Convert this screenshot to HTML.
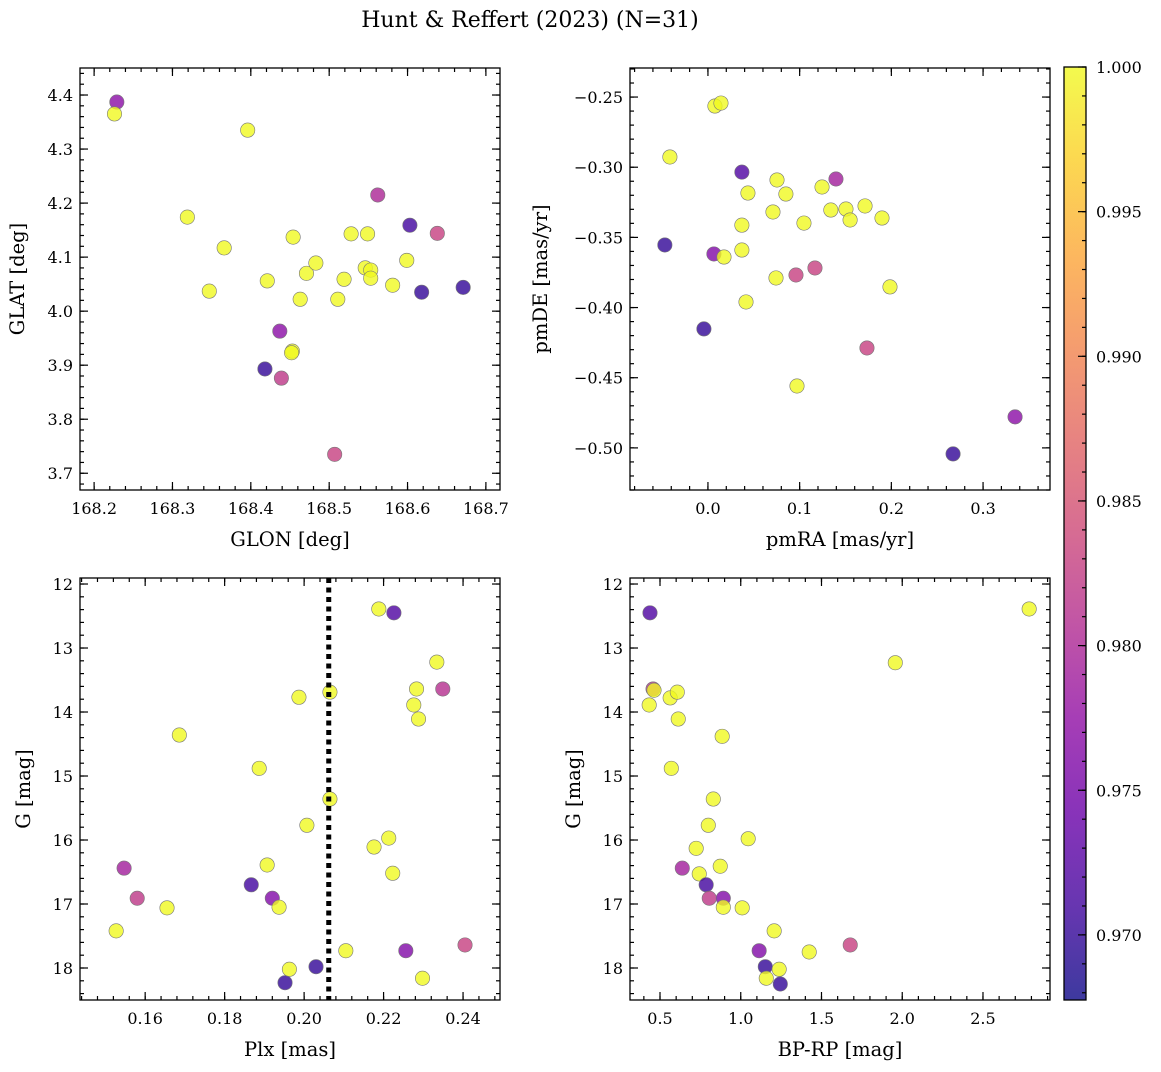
<!DOCTYPE html>
<html><head><meta charset="utf-8"><style>
html,body{margin:0;padding:0;background:#fff;}
svg text{font-family:"DejaVu Serif","Liberation Serif",serif;fill:#000;}
</style></head><body>
<svg id="fig" width="1161" height="1067" xmlns="http://www.w3.org/2000/svg">
<defs><linearGradient id="plasma" x1="0" y1="1" x2="0" y2="0">
<stop offset="0" stop-color="#0d0887"/><stop offset="0.1" stop-color="#41049d"/><stop offset="0.2" stop-color="#6a00a8"/><stop offset="0.3" stop-color="#8f0da4"/><stop offset="0.4" stop-color="#b12a90"/><stop offset="0.5" stop-color="#cc4778"/><stop offset="0.6" stop-color="#e16462"/><stop offset="0.7" stop-color="#f2844b"/><stop offset="0.8" stop-color="#fca636"/><stop offset="0.9" stop-color="#fcce25"/><stop offset="1" stop-color="#f0f921"/>
</linearGradient></defs>
<text x="530" y="27" font-size="22" text-anchor="middle">Hunt &amp; Reffert (2023) (N=31)</text>
</svg>
<script>
// Panel data
const tlX=[168.229,168.226,168.319,168.366,168.347,168.396,168.421,168.437,168.418,168.439,168.453,168.452,168.454,168.471,168.463,168.483,168.511,168.519,168.528,168.507,168.549,168.546,168.553,168.553,168.562,168.581,168.599,168.603,168.618,168.638,168.671];
const tlY=[4.387,4.365,4.174,4.117,4.037,4.335,4.056,3.963,3.893,3.876,3.926,3.923,4.137,4.070,4.022,4.089,4.022,4.059,4.143,3.735,4.143,4.080,4.076,4.061,4.215,4.048,4.094,4.159,4.035,4.144,4.044];
const tlP=[0.977,1,1,1,1,1,1,0.977,0.970,0.982,1,1,1,1,1,1,1,1,1,0.983,1,1,1,1,0.980,1,1,0.971,0.970,0.983,0.970];
const trX=[0.0076,0.0142,-0.0415,-0.047,-0.0044,0.0065,0.0175,0.037,0.0436,0.037,0.037,0.0415,0.0753,0.0709,0.0742,0.085,0.096,0.1047,0.0971,0.1167,0.1244,0.134,0.1396,0.1505,0.155,0.1713,0.1734,0.1898,0.1985,0.2673,0.3349];
const trY=[-0.2564,-0.2543,-0.2927,-0.3554,-0.4152,-0.3618,-0.364,-0.3035,-0.3184,-0.3413,-0.3590,-0.3960,-0.3091,-0.3319,-0.3789,-0.3191,-0.3768,-0.3398,-0.4559,-0.3718,-0.3141,-0.3305,-0.3084,-0.3298,-0.3376,-0.3276,-0.4288,-0.3362,-0.3853,-0.5043,-0.4779];
const trP=[1,1,1,0.970,0.970,0.976,1,0.972,1,1,1,1,1,1,1,1,0.983,1,1,0.983,1,1,0.979,1,1,1,0.983,1,1,0.970,0.977];
const blX=[0.1527,0.1547,0.1580,0.1655,0.1686,0.1867,0.1887,0.1907,0.1920,0.1937,0.1952,0.1963,0.1987,0.2007,0.2030,0.2065,0.2065,0.2105,0.2176,0.2188,0.2213,0.2223,0.2226,0.2256,0.2276,0.2283,0.2288,0.2298,0.2334,0.2349,0.2405];
const blY=[17.42,16.44,16.91,17.06,14.36,16.70,14.88,16.39,16.91,17.05,18.23,18.02,13.77,15.77,17.98,13.69,15.36,17.73,16.11,12.39,15.97,16.52,12.45,17.73,13.89,13.64,14.11,18.16,13.22,13.64,17.64];
const blP=[1,0.979,0.982,1,1,0.971,1,1,0.976,1,0.970,1,1,1,0.970,1,1,1,1,1,1,1,0.972,0.976,1,1,1,1,1,0.981,0.983];
const brX=[0.438,0.457,0.463,0.433,0.563,0.607,0.613,0.570,0.638,0.724,0.743,0.786,0.799,0.805,0.830,0.873,0.885,0.892,0.892,1.009,1.046,1.114,1.152,1.158,1.207,1.238,1.245,1.424,1.678,1.957,2.786];
const brY=[12.45,13.64,13.66,13.89,13.78,13.69,14.11,14.88,16.44,16.13,16.53,16.70,15.77,16.91,15.36,16.41,14.38,16.91,17.05,17.06,15.98,17.73,17.98,18.16,17.42,18.02,18.25,17.75,17.64,13.23,12.39];
const brP=[0.972,0.981,1,1,1,1,1,1,0.979,1,1,0.971,1,0.982,1,1,1,0.976,1,1,1,0.976,0.970,1,1,1,0.970,1,0.983,1,1];
const plxLine=[0.2062];
const cbTicks=[0.970,0.975,0.980,0.985,0.990,0.995,1.000];

const NS="http://www.w3.org/2000/svg";
const svg=document.getElementById('fig');
const PMIN=0.96775,PMAX=1.0;
const stops=[[13,8,135],[65,4,157],[106,0,168],[143,13,164],[177,42,144],[204,71,120],[225,100,98],[242,132,75],[252,166,54],[252,206,37],[240,249,33]];
function cmap(p){let t=(p-PMIN)/(PMAX-PMIN);t=Math.max(0,Math.min(1,t));const f=t*10,i=Math.min(9,Math.floor(f)),r=f-i;const a=stops[i],b=stops[i+1];return 'rgb('+a.map((v,k)=>Math.round(v+(b[k]-v)*r)).join(',')+')';}
function mk(tag,attrs,parent){const e=document.createElementNS(NS,tag);for(const k in attrs)e.setAttribute(k,attrs[k]);(parent||svg).appendChild(e);return e;}
function rng(a,b,s){const o=[];const lo=Math.min(a,b),hi=Math.max(a,b);for(let v=Math.ceil(lo/s-1e-6)*s;v<=hi+1e-9;v+=s)o.push(Math.round(v/s)*s);return o;}

function panel(o){
  const g=mk('g',{});
  
  
  const L=o.box[0],T=o.box[1],R=o.box[2],B=o.box[3];
  const sx=v=>L+(v-o.xd[0])/(o.xd[1]-o.xd[0])*(R-L);
  const sy=v=>B-(v-o.yd[0])/(o.yd[1]-o.yd[0])*(B-T);
  for(let i=0;i<o.x.length;i++){
    const c=mk('circle',{cx:sx(o.x[i]),cy:sy(o.y[i]),r:7.2,fill:cmap(o.p[i]),'fill-opacity':0.8,stroke:'#777','stroke-width':0.6},g);
    
    
  }
  if(o.vline){for(const v of o.vline){const l=mk('line',{x1:sx(v),x2:sx(v),y1:T,y2:B,stroke:'#000','stroke-width':5,'stroke-dasharray':'5,4.5'},g);
    
    }}
  const tk=(v,len,axis)=>{if(axis==='x'){const X=sx(v);mk('line',{x1:X,x2:X,y1:B,y2:B-len,stroke:'#000','stroke-width':1.2},g);mk('line',{x1:X,x2:X,y1:T,y2:T+len,stroke:'#000','stroke-width':1.2},g);}else{const Y=sy(v);mk('line',{x1:L,x2:L+len,y1:Y,y2:Y,stroke:'#000','stroke-width':1.2},g);mk('line',{x1:R,x2:R-len,y1:Y,y2:Y,stroke:'#000','stroke-width':1.2},g);}};
  rng(o.xd[0],o.xd[1],o.xm).forEach(v=>tk(v,4,'x'));
  rng(o.yd[0],o.yd[1],o.ym).forEach(v=>tk(v,4,'y'));
  o.xt.forEach((v,i)=>{tk(v,8,'x');const t=mk('text',{x:sx(v),y:B+24,'font-size':16,'text-anchor':'middle'},g);t.textContent=o.xl[i];
    
    });
  o.yt.forEach((v,i)=>{tk(v,8,'y');const t=mk('text',{x:L-7,y:sy(v)+6,'font-size':16,'text-anchor':'end'},g);t.textContent=o.yl[i];
    
    });
  mk('rect',{x:L,y:T,width:R-L,height:B-T,fill:'none',stroke:'#000','stroke-width':1.3},g);
  const xt=mk('text',{x:(L+R)/2,y:B+56,'font-size':19.5,'text-anchor':'middle'},g);xt.textContent=o.xlab;
  
  
  const yx=o.ylx,yy=(T+B)/2;
  const yt=mk('text',{x:yx,y:yy,'font-size':19.5,'text-anchor':'middle',transform:'rotate(-90 '+yx+' '+yy+')'},g);yt.textContent=o.ylab;
  
  
}
const f1=v=>v.toFixed(1),f2=v=>v.toFixed(2),m=s=>s.replace('-','−');
const tlxt=[168.2,168.3,168.4,168.5,168.6,168.7],tlyt=[3.7,3.8,3.9,4.0,4.1,4.2,4.3,4.4];
panel({name:'glon-glat-panel',box:[80,68,500,490],xd:[168.182,168.718],yd:[3.669,4.45],xt:tlxt,xl:tlxt.map(f1),yt:tlyt,yl:tlyt.map(f1),xm:0.02,ym:0.02,x:tlX,y:tlY,p:tlP,xlab:'GLON [deg]',ylab:'GLAT [deg]',ylx:24});
const trxt=[0,0.1,0.2,0.3],tryt=[-0.5,-0.45,-0.4,-0.35,-0.3,-0.25];
panel({name:'pm-panel',box:[630,68,1050,490],xd:[-0.085,0.373],yd:[-0.530,-0.2293],xt:trxt,xl:trxt.map(f1),yt:tryt,yl:tryt.map(v=>m(f2(v))),xm:0.02,ym:0.01,x:trX,y:trY,p:trP,xlab:'pmRA [mas/yr]',ylab:'pmDE [mas/yr]',ylx:547});
const blxt=[0.16,0.18,0.2,0.22,0.24],gyt=[12,13,14,15,16,17,18];
panel({name:'plx-g-panel',box:[80,578,500,1000],xd:[0.1436,0.2493],yd:[18.5,11.906],xt:blxt,xl:blxt.map(f2),yt:gyt,yl:gyt.map(String),xm:0.004,ym:0.2,x:blX,y:blY,p:blP,xlab:'Plx [mas]',ylab:'G [mag]',ylx:30,vline:plxLine});
const brxt=[0.5,1,1.5,2,2.5];
panel({name:'cmd-panel',box:[630,578,1050,1000],xd:[0.3142,2.915],yd:[18.5,11.906],xt:brxt,xl:brxt.map(f1),yt:gyt,yl:gyt.map(String),xm:0.1,ym:0.2,x:brX,y:brY,p:brP,xlab:'BP-RP [mag]',ylab:'G [mag]',ylx:580});
const cg=mk('g',{});


const CL=1064,CR=1086,CT=67,CB=1000;
const cy=v=>CB-(v-PMIN)/(PMAX-PMIN)*(CB-CT);
mk('rect',{x:CL,y:CT,width:CR-CL,height:CB-CT,fill:'url(#plasma)','fill-opacity':0.8},cg);
rng(PMIN,PMAX,0.001).forEach(v=>mk('line',{x1:CR,x2:CR-4,y1:cy(v),y2:cy(v),stroke:'#000','stroke-width':1.2},cg));
cbTicks.forEach(v=>{mk('line',{x1:CR,x2:CR-8,y1:cy(v),y2:cy(v),stroke:'#000','stroke-width':1.2},cg);
  const t=mk('text',{x:CR+10,y:cy(v)+6,'font-size':16},cg);t.textContent=v.toFixed(3);
  
  });
mk('rect',{x:CL,y:CT,width:CR-CL,height:CB-CT,fill:'none',stroke:'#000','stroke-width':1.3},cg);
</script>
</body></html>
